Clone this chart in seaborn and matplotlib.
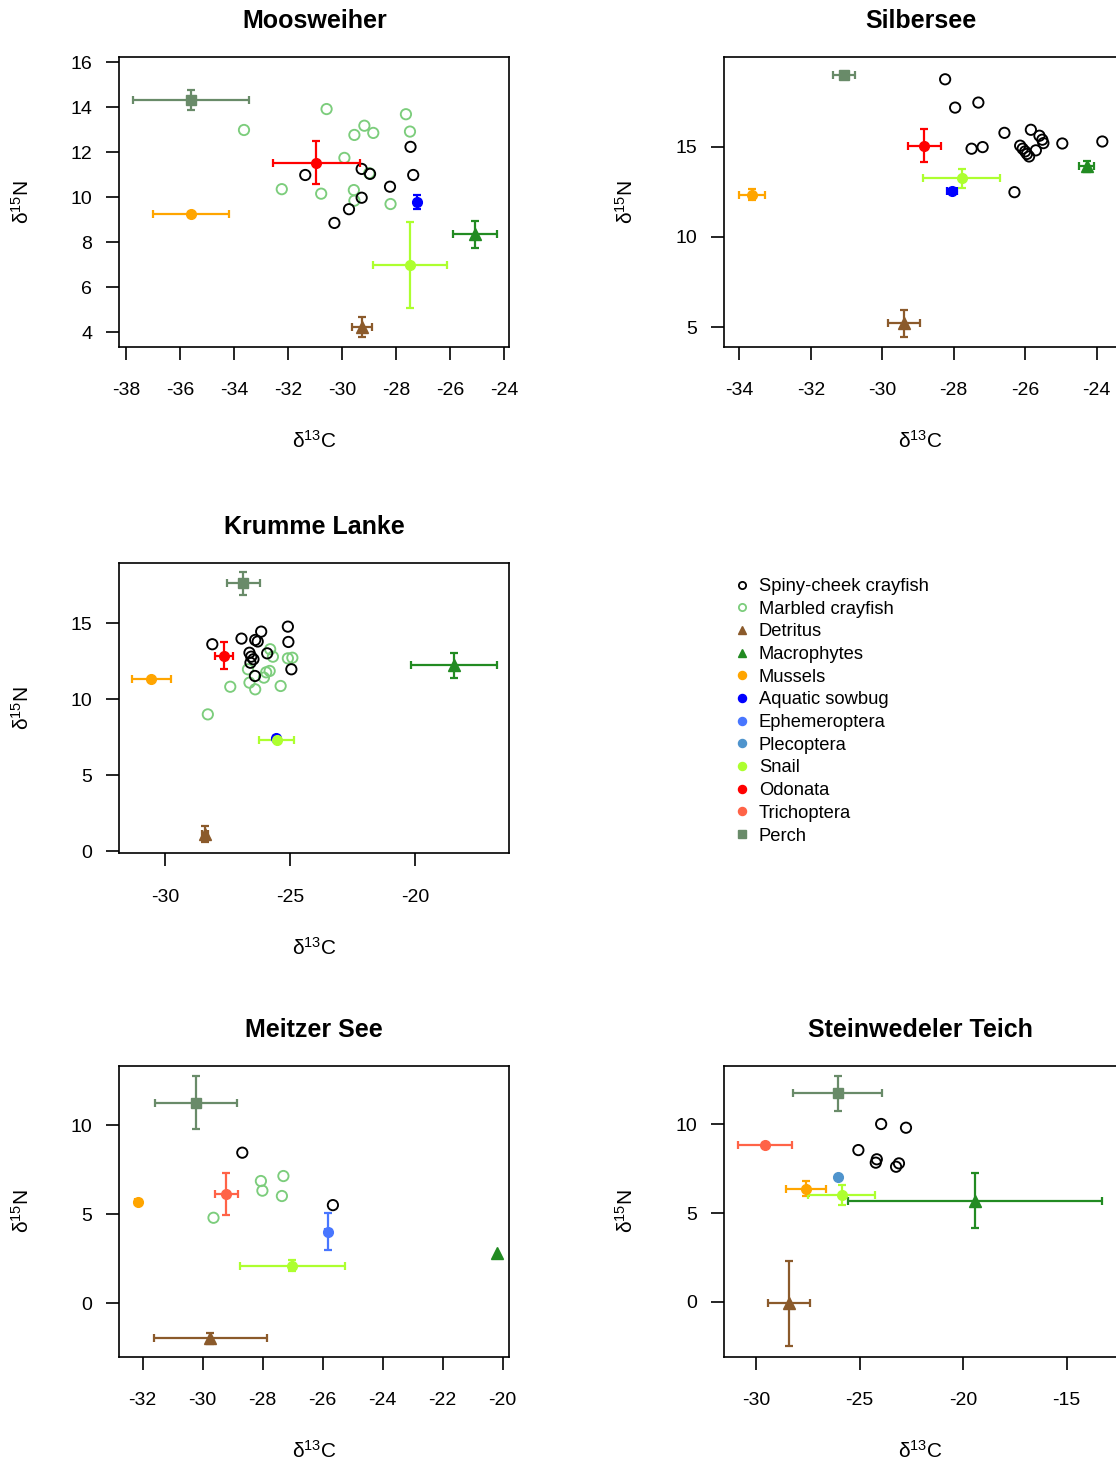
import matplotlib
matplotlib.use("Agg")
import matplotlib.pyplot as plt
from matplotlib.lines import Line2D
import seaborn as sns
import pandas as pd

sns.set_theme(style="ticks")
plt.rcParams["font.family"] = ["Liberation Sans", "DejaVu Sans"]
plt.rcParams["mathtext.fontset"] = "custom"
plt.rcParams["mathtext.rm"] = "Liberation Sans"
plt.rcParams["mathtext.it"] = "Liberation Sans:italic"
plt.rcParams["mathtext.default"] = "regular"
plt.rcParams["axes.unicode_minus"] = False
plt.rcParams["text.color"] = "black"
plt.rcParams["axes.labelcolor"] = "black"
plt.rcParams["xtick.color"] = "black"
plt.rcParams["ytick.color"] = "black"

# ---------------- data ----------------
LAKES = ["Moosweiher", "Silbersee", "Krumme Lanke", "Meitzer See", "Steinwedeler Teich"]

# crayfish individuals (delta13C, delta15N)
MOOS_SPINY_C = [-31.36, -29.27, -28.96, -28.22, -27.46, -27.36, -29.27, -29.74, -30.28]
MOOS_SPINY_N = [10.99, 11.26, 11.04, 10.47, 12.24, 10.99, 9.98, 9.47, 8.86]
MOOS_MARBLED_C = [-33.63, -30.57, -29.17, -29.54, -28.84, -27.63, -27.48, -29.91, -28.99,
                  -32.23, -30.77, -29.56, -29.54, -28.20]
MOOS_MARBLED_N = [12.99, 13.92, 13.18, 12.77, 12.86, 13.69, 12.92, 11.75, 11.07,
                  10.36, 10.16, 10.32, 9.85, 9.70]

SILB_SPINY_C = [-28.24, -27.96, -27.31, -26.58, -25.84, -27.50, -27.19, -26.14, -26.07,
                -26.00, -25.89, -25.70, -25.60, -25.52, -25.49, -24.96, -23.84, -26.30, -25.95]
SILB_SPINY_N = [18.74, 17.17, 17.45, 15.77, 15.94, 14.89, 14.98, 15.06, 14.89,
                14.74, 14.46, 14.80, 15.61, 15.39, 15.20, 15.18, 15.29, 12.48, 14.60]
SILB_MARBLED_C = []
SILB_MARBLED_N = []

KRUM_SPINY_C = [-28.12, -26.95, -26.40, -26.30, -26.16, -25.09, -25.07, -25.92, -26.63,
                -26.56, -26.47, -26.59, -24.95, -26.41]
KRUM_SPINY_N = [13.62, 13.99, 13.90, 13.80, 14.45, 14.78, 13.77, 13.02, 13.06,
                12.80, 12.63, 12.40, 11.97, 11.53]
KRUM_MARBLED_C = [-25.80, -25.69, -25.09, -24.91, -26.69, -25.96, -25.82, -26.05, -26.63,
                  -27.40, -26.40, -25.38, -28.30]
KRUM_MARBLED_N = [13.29, 12.80, 12.69, 12.73, 11.97, 11.77, 11.86, 11.42, 11.09,
                  10.82, 10.65, 10.87, 9.00]

MEIT_SPINY_C = [-28.68, -25.66]
MEIT_SPINY_N = [8.45, 5.51]
MEIT_MARBLED_C = [-28.06, -28.01, -27.31, -27.36, -29.64]
MEIT_MARBLED_N = [6.86, 6.32, 7.14, 6.02, 4.80]

STEI_SPINY_C = [-23.96, -22.76, -25.06, -24.17, -24.22, -23.10, -23.24]
STEI_SPINY_N = [10.02, 9.81, 8.55, 8.03, 7.84, 7.80, 7.61]
STEI_MARBLED_C = []
STEI_MARBLED_N = []

# food sources: (group, mean d13C, sd d13C, mean d15N, sd d15N)
MOOS_SOURCES = [("Detritus", -29.26, 0.38, 4.22, 0.45),
                ("Macrophytes", -25.07, 0.82, 8.36, 0.60),
                ("Mussels", -35.60, 1.40, 9.24, 0.12),
                ("Aquatic sowbug", -27.21, 0.10, 9.80, 0.31),
                ("Snail", -27.48, 1.36, 6.98, 1.91),
                ("Odonata", -30.95, 1.60, 11.54, 0.96),
                ("Perch", -35.60, 2.15, 14.32, 0.46)]
SILB_SOURCES = [("Detritus", -29.39, 0.44, 5.20, 0.75),
                ("Macrophytes", -24.28, 0.20, 13.91, 0.30),
                ("Mussels", -33.65, 0.37, 12.33, 0.30),
                ("Aquatic sowbug", -28.05, 0.15, 12.55, 0.10),
                ("Snail", -27.78, 1.07, 13.25, 0.52),
                ("Odonata", -28.82, 0.47, 15.06, 0.90),
                ("Perch", -31.07, 0.30, 18.96, 0.20)]
KRUM_SOURCES = [("Detritus", -28.42, 0.12, 1.12, 0.55),
                ("Macrophytes", -18.43, 1.71, 12.23, 0.81),
                ("Mussels", -30.57, 0.79, 11.31, 0.10),
                ("Aquatic sowbug", -25.55, 0.10, 7.45, 0.10),
                ("Snail", -25.53, 0.70, 7.31, 0.15),
                ("Odonata", -27.67, 0.36, 12.87, 0.90),
                ("Perch", -26.87, 0.66, 17.64, 0.75)]
MEIT_SOURCES = [("Detritus", -29.75, 1.88, -1.96, 0.32),
                ("Macrophytes", -20.20, 0.0, 2.80, 0.0),
                ("Mussels", -32.17, 0.10, 5.70, 0.10),
                ("Ephemeroptera", -25.82, 0.10, 4.02, 1.03),
                ("Snail", -27.01, 1.76, 2.11, 0.30),
                ("Trichoptera", -29.21, 0.38, 6.13, 1.18),
                ("Perch", -30.22, 1.36, 11.25, 1.50)]
STEI_SOURCES = [("Detritus", -28.42, 1.00, -0.09, 2.40),
                ("Macrophytes", -19.41, 6.14, 5.69, 1.55),
                ("Mussels", -27.59, 0.97, 6.37, 0.42),
                ("Plecoptera", -26.03, 0.0, 7.05, 0.0),
                ("Snail", -25.86, 1.62, 6.03, 0.55),
                ("Trichoptera", -29.57, 1.30, 8.83, 0.10),
                ("Perch", -26.06, 2.16, 11.75, 0.99)]

MOOS_XTICKS = [-38, -36, -34, -32, -30, -28, -26, -24]
MOOS_YTICKS = [4, 6, 8, 10, 12, 14, 16]
SILB_XTICKS = [-34, -32, -30, -28, -26, -24]
SILB_YTICKS = [5, 10, 15]
KRUM_XTICKS = [-30, -25, -20]
KRUM_YTICKS = [0, 5, 10, 15]
MEIT_XTICKS = [-32, -30, -28, -26, -24, -22, -20]
MEIT_YTICKS = [0, 5, 10]
STEI_XTICKS = [-30, -25, -20, -15]
STEI_YTICKS = [0, 5, 10]

LEGEND_LABELS = ["Spiny-cheek crayfish", "Marbled crayfish", "Detritus", "Macrophytes",
                 "Mussels", "Aquatic sowbug", "Ephemeroptera", "Plecoptera", "Snail",
                 "Odonata", "Trichoptera", "Perch"]

# ---------------- styles ----------------
COLORS = {"Spiny-cheek crayfish": "black", "Marbled crayfish": "#7CCD7C",
          "Detritus": "#8B5A2B", "Macrophytes": "#228B22", "Mussels": "#FFA500",
          "Aquatic sowbug": "#0000FF", "Ephemeroptera": "#4876FF",
          "Plecoptera": "#4F94CD", "Snail": "#ADFF2F", "Odonata": "#FF0000",
          "Trichoptera": "#FF6347", "Perch": "#698B69"}
MARKERS = {"Detritus": "^", "Macrophytes": "^", "Perch": "s"}

FIG_W, FIG_H = 1116, 1463
LEFT_X, RIGHT_X = 119.3, 724.0
LEFT_W, RIGHT_W = 390.0, 393.5
ROWS = [(57.3, 346.7), (562.7, 853.3), (1066.0, 1356.7)]

panels = [
    ("Moosweiher", 0, "L", MOOS_SPINY_C, MOOS_SPINY_N, MOOS_MARBLED_C, MOOS_MARBLED_N,
     MOOS_SOURCES, MOOS_XTICKS, MOOS_YTICKS, (-38.25, -23.8), (3.36, 16.22)),
    ("Silbersee", 0, "R", SILB_SPINY_C, SILB_SPINY_N, SILB_MARBLED_C, SILB_MARBLED_N,
     SILB_SOURCES, SILB_XTICKS, SILB_YTICKS, (-34.43, -23.415), (3.91, 19.96)),
    ("Krumme Lanke", 1, "L", KRUM_SPINY_C, KRUM_SPINY_N, KRUM_MARBLED_C, KRUM_MARBLED_N,
     KRUM_SOURCES, KRUM_XTICKS, KRUM_YTICKS, (-31.85, -16.21), (-0.15, 18.99)),
    ("Meitzer See", 2, "L", MEIT_SPINY_C, MEIT_SPINY_N, MEIT_MARBLED_C, MEIT_MARBLED_N,
     MEIT_SOURCES, MEIT_XTICKS, MEIT_YTICKS, (-32.78, -19.78), (-2.99, 13.31)),
    ("Steinwedeler Teich", 2, "R", STEI_SPINY_C, STEI_SPINY_N, STEI_MARBLED_C, STEI_MARBLED_N,
     STEI_SOURCES, STEI_XTICKS, STEI_YTICKS, (-31.55, -12.545), (-3.10, 13.29)),
]

fig = plt.figure(figsize=(FIG_W / 100, FIG_H / 100), dpi=100)

for (title, row, side, sc, sn, mc, mn, sources, xt, yt, xl, yl) in panels:
    top, bot = ROWS[row]
    x0 = LEFT_X if side == "L" else RIGHT_X
    w = LEFT_W if side == "L" else RIGHT_W
    h = bot - top
    ax = fig.add_axes([x0 / FIG_W, 1 - bot / FIG_H, w / FIG_W, h / FIG_H])
    ax.set_facecolor("white")

    if mc:
        dfm = pd.DataFrame({"C": mc, "N": mn})
        sns.scatterplot(data=dfm, x="C", y="N", ax=ax, marker="o", s=55,
                        fc="none", ec=COLORS["Marbled crayfish"], linewidth=1.35,
                        legend=False, zorder=2)
    if sc:
        dfs = pd.DataFrame({"C": sc, "N": sn})
        sns.scatterplot(data=dfs, x="C", y="N", ax=ax, marker="o", s=55,
                        fc="none", ec=COLORS["Spiny-cheek crayfish"], linewidth=1.35,
                        legend=False, zorder=2)

    for name, cm, ce, nm, ne in sources:
        col = COLORS[name]
        mk = MARKERS.get(name, "o")
        ms = 8 if mk == "^" else 7
        ax.errorbar(cm, nm, xerr=ce if ce > 0 else None, yerr=ne if ne > 0 else None,
                    fmt=mk, color=col, ms=ms, mec=col, elinewidth=1.6,
                    capsize=3, capthick=1.6, zorder=3)

    ax.set_xlim(*xl)
    ax.set_ylim(*yl)
    ax.set_xticks(xt)
    ax.set_yticks(yt)
    ax.set_xticklabels([str(v) for v in xt])
    ax.set_yticklabels([str(v) for v in yt])
    for sp in ax.spines.values():
        sp.set_visible(True)
        sp.set_linewidth(1.2)
        sp.set_color("black")
    ax.tick_params(axis="both", direction="out", length=9.5, width=1.2,
                   labelsize=14, colors="black")
    ax.tick_params(axis="x", pad=16)
    ax.tick_params(axis="y", pad=10)
    ax.grid(False)

    ax.set_title(title, fontsize=18, fontweight="bold", pad=21, color="black")
    ax.set_xlabel("δ$^{13}$C", fontsize=15)
    ax.set_ylabel("δ$^{15}$N", fontsize=15)
    ax.xaxis.set_label_coords(0.5, -(430 - 346.7) / 289.4)
    ax.yaxis.set_label_coords(-(119.3 - 33) / 390, 0.5)

# legend
handles = []
for lab in LEGEND_LABELS:
    col = COLORS[lab]
    if "crayfish" in lab:
        handles.append(Line2D([], [], ls="none", marker="o", ms=5.2, mfc="none",
                              mec=col, mew=1.3))
    else:
        mk = MARKERS.get(lab, "o")
        handles.append(Line2D([], [], ls="none", marker=mk, ms=5.8, mfc=col, mec=col))
fig.legend(handles, LEGEND_LABELS, loc="upper left",
           bbox_to_anchor=(735 / FIG_W, 1 - 578 / FIG_H), frameon=False,
           fontsize=13.2, handlelength=0.8, handletextpad=0.5,
           labelspacing=0.31, borderpad=0, borderaxespad=0)

fig.savefig("out.png", dpi=100)
